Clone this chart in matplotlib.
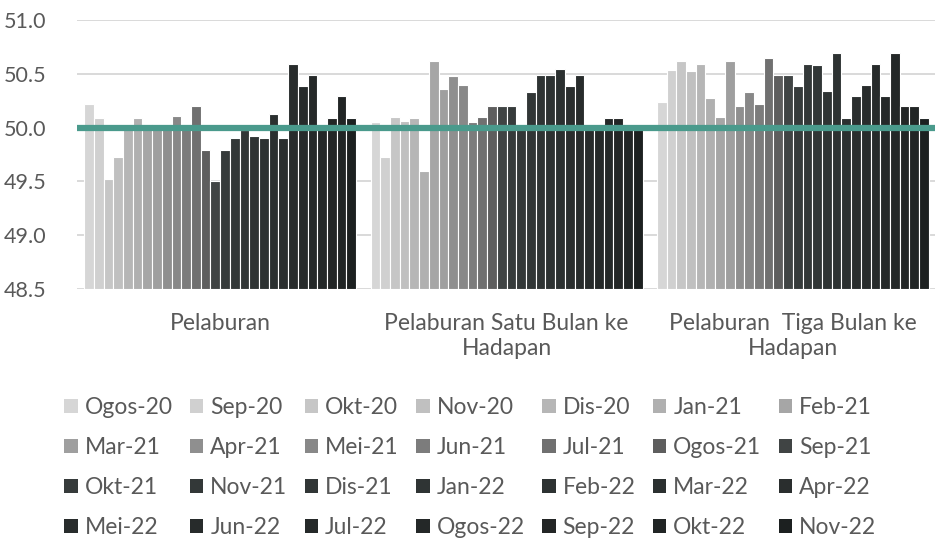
import numpy as np
import matplotlib.pyplot as plt
from matplotlib.patches import Patch

plt.rcParams['font.family'] = ['Lato', 'DejaVu Sans']

# Kategorijos ir serijos
kategorijos = ['Pelaburan', 'Pelaburan Satu Bulan ke\nHadapan', 'Pelaburan  Tiga Bulan ke\nHadapan']
bulanai = ['Ogos-20', 'Sep-20', 'Okt-20', 'Nov-20', 'Dis-20', 'Jan-21', 'Feb-21',
           'Mar-21', 'Apr-21', 'Mei-21', 'Jun-21', 'Jul-21', 'Ogos-21', 'Sep-21',
           'Okt-21', 'Nov-21', 'Dis-21', 'Jan-22', 'Feb-22', 'Mar-22', 'Apr-22',
           'Mei-22', 'Jun-22', 'Jul-22', 'Ogos-22', 'Sep-22', 'Okt-22', 'Nov-22']

pelaburan = [50.22, 50.09, 49.52, 49.73, 50.0, 50.09, 50.03, 50.0, 50.0, 50.11,
             50.0, 50.20, 49.79, 49.50, 49.79, 49.90, 49.98, 49.92, 49.90, 50.13,
             49.90, 50.59, 50.39, 50.49, 50.0, 50.09, 50.29, 50.09]
satu_bulan = [50.05, 49.73, 50.10, 50.06, 50.09, 49.60, 50.62, 50.36, 50.48, 50.40,
              50.05, 50.10, 50.20, 50.20, 50.20, 50.0, 50.33, 50.49, 50.49, 50.55,
              50.39, 50.49, 50.0, 50.0, 50.09, 50.09, 50.0, 50.0]
tiga_bulan = [50.24, 50.54, 50.62, 50.53, 50.59, 50.28, 50.10, 50.62, 50.20, 50.33,
              50.22, 50.65, 50.49, 50.49, 50.39, 50.59, 50.58, 50.34, 50.69, 50.09,
              50.29, 50.40, 50.59, 50.29, 50.69, 50.20, 50.20, 50.09]

spalvos = ['#d6d6d6', '#d0d0d0', '#c6c6c6', '#c0c0c0', '#b6b6b6', '#b0b0b0', '#a6a6a6',
           '#9f9f9f', '#8f8f8f', '#888888', '#7c7c7c', '#707070', '#5e5e5e', '#404444',
           '#363b3b', '#333838', '#313636', '#2f3434', '#2d3232', '#2b3030', '#2a2e2e',
           '#282c2c', '#272b2b', '#252929', '#242828', '#232626', '#212525', '#1c2020']

reiksmes = np.array([pelaburan, satu_bulan, tiga_bulan])
teksto_spalva = '#595959'

fig = plt.figure(figsize=(9.35, 5.59), dpi=100)
ax = fig.add_axes([0.0824, 0.483, 0.9187, 0.481])

x = np.arange(len(kategorijos))
n = len(bulanai)
w = 0.95 / n
for i in range(n):
    ax.bar(x + (i - (n - 1) / 2) * w, reiksmes[:, i] - 48.5, w, bottom=48.5,
           color=spalvos[i], edgecolor='white', linewidth=0.8, label=bulanai[i], zorder=2)

ax.axhline(50.0, color='#4a9a8c', linewidth=4.5, zorder=3)

ax.set_ylim(48.5, 51.0)
ax.set_xlim(-0.5, 2.5)
ax.set_yticks([48.5, 49.0, 49.5, 50.0, 50.5, 51.0])
ax.set_yticklabels(['48.5', '49.0', '49.5', '50.0', '50.5', '51.0'])
ax.set_xticks(x)
ax.set_xticklabels(kategorijos, linespacing=1.25)
ax.tick_params(axis='y', length=0, pad=22, labelsize=15.5, labelcolor=teksto_spalva)
ax.tick_params(axis='x', length=0, pad=17, labelsize=16.5, labelcolor=teksto_spalva)
ax.grid(axis='y', color='#d9d9d9', linewidth=1.4, zorder=0)
ax.set_axisbelow(True)
for s in ax.spines.values():
    s.set_visible(False)

# Legenda: eilėmis po 7
rankenos = [Patch(facecolor=spalvos[i], label=bulanai[i]) for i in range(n)]
tvarka = [r * 7 + j for j in range(7) for r in range(4)]
fig.legend([rankenos[k] for k in tvarka], [bulanai[k] for k in tvarka],
           ncol=7, loc='upper left', bbox_to_anchor=(0.056, 0.31), frameon=False,
           fontsize=16.5, labelcolor=teksto_spalva, handlelength=0.6, handleheight=0.6,
           handletextpad=0.3, columnspacing=0.75, labelspacing=0.83, borderpad=0)

fig.savefig('out.png', dpi=100)
